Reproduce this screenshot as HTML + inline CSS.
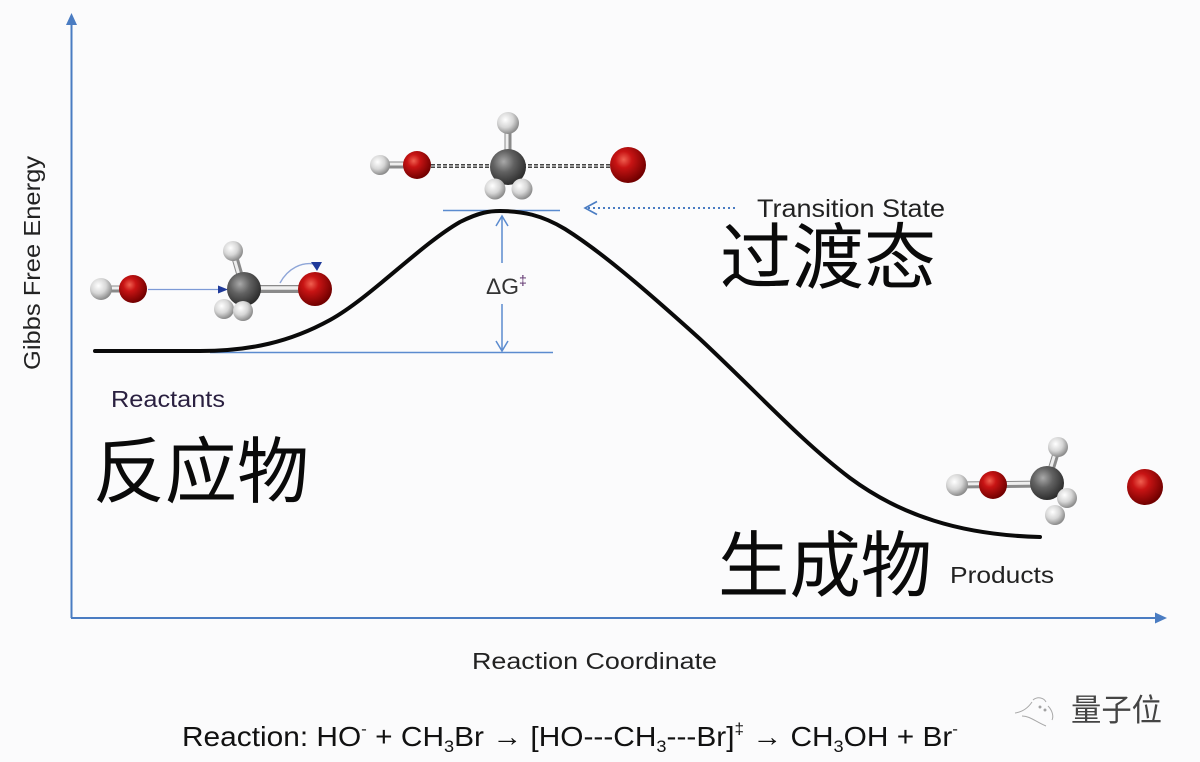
<!DOCTYPE html>
<html>
<head>
<meta charset="utf-8">
<style>
  html,body{margin:0;padding:0;background:#fbfbfc;}
  svg{display:block;}
  .en{font-family:"Liberation Sans","DejaVu Sans",sans-serif;}
  .cjk{font-family:"Liberation Sans","Noto Sans CJK SC",sans-serif;}
</style>
</head>
<body>
<svg width="1200" height="762" viewBox="0 0 1200 762" xmlns="http://www.w3.org/2000/svg">
  <defs>
    <radialGradient id="gRed" cx="38%" cy="35%" r="65%">
      <stop offset="0%" stop-color="#f06050"/>
      <stop offset="35%" stop-color="#c81414"/>
      <stop offset="100%" stop-color="#720000"/>
    </radialGradient>
    <radialGradient id="gWhite" cx="38%" cy="35%" r="65%">
      <stop offset="0%" stop-color="#ffffff"/>
      <stop offset="55%" stop-color="#d6d6d6"/>
      <stop offset="100%" stop-color="#8c8c8c"/>
    </radialGradient>
    <radialGradient id="gGray" cx="38%" cy="35%" r="65%">
      <stop offset="0%" stop-color="#a9a9a9"/>
      <stop offset="45%" stop-color="#626262"/>
      <stop offset="100%" stop-color="#2e2e2e"/>
    </radialGradient>
  </defs>

  <rect x="0" y="0" width="1200" height="762" fill="#fbfbfc"/>

  <!-- axes -->
  <line x1="71.5" y1="618" x2="71.5" y2="22" stroke="#4a7cc2" stroke-width="2"/>
  <polygon points="71.5,13 66,25 77,25" fill="#4a7cc2"/>
  <line x1="71" y1="618" x2="1158" y2="618" stroke="#4a7cc2" stroke-width="2"/>
  <polygon points="1167,618 1155,612.5 1155,623.5" fill="#4a7cc2"/>

  <!-- reference blue lines -->
  <line x1="210" y1="352.5" x2="553" y2="352.5" stroke="#5b8bcf" stroke-width="1.5"/>
  <line x1="443" y1="210.5" x2="560" y2="210.5" stroke="#5b8bcf" stroke-width="1.5"/>

  <!-- ΔG arrow -->
  <line x1="502" y1="216" x2="502" y2="263" stroke="#5b8bcf" stroke-width="1.5"/>
  <polyline points="496,226 502,216 508,226" fill="none" stroke="#5b8bcf" stroke-width="1.5"/>
  <line x1="502" y1="304" x2="502" y2="351" stroke="#5b8bcf" stroke-width="1.5"/>
  <polyline points="496,341 502,351 508,341" fill="none" stroke="#5b8bcf" stroke-width="1.5"/>
  <text x="486" y="294" class="en" font-size="22" fill="#333" textLength="33" lengthAdjust="spacingAndGlyphs">ΔG</text>
  <text x="519" y="285" class="en" font-size="14" fill="#5a2d6a">‡</text>

  <!-- dotted arrow to transition state -->
  <line x1="588" y1="208" x2="736" y2="208" stroke="#4a7cc2" stroke-width="2" stroke-dasharray="2,3"/>
  <polyline points="597,201.5 585,208 597,214.5" fill="none" stroke="#4a7cc2" stroke-width="1.6"/>

  <!-- energy curve -->
  <path d="M95,351 L200,351 C250,351 290,342 330,320 C370,298 420,245 460,222 C480,212 490,211 500,211 C522,211 542,215 565,229 C600,251 640,285 700,339 C760,395 800,440 850,478 C900,515 960,535 1040,537"
        fill="none" stroke="#0a0a0a" stroke-width="4" stroke-linecap="round"/>

  <!-- ===== Reactant molecules ===== -->
  <line x1="101" y1="289" x2="133" y2="289" stroke="#8a8a8a" stroke-width="7"/>
  <line x1="101" y1="288" x2="133" y2="288" stroke="#eeeeee" stroke-width="3"/>
  <circle cx="101" cy="289" r="11" fill="url(#gWhite)"/>
  <circle cx="133" cy="289" r="14" fill="url(#gRed)"/>
  <line x1="148" y1="289.5" x2="220" y2="289.5" stroke="#7d9ad6" stroke-width="1.3"/>
  <polygon points="228,289.5 218,285.5 218,293.5" fill="#1f3a9a"/>
  <line x1="244" y1="289" x2="233" y2="251" stroke="#8a8a8a" stroke-width="7"/>
  <line x1="243" y1="289" x2="232" y2="251" stroke="#eeeeee" stroke-width="3"/>
  <line x1="244" y1="289" x2="315" y2="289" stroke="#8a8a8a" stroke-width="8"/>
  <line x1="244" y1="288" x2="315" y2="288" stroke="#f0f0f0" stroke-width="3.5"/>
  <circle cx="233" cy="251" r="10" fill="url(#gWhite)"/>
  <circle cx="244" cy="289" r="17" fill="url(#gGray)"/>
  <circle cx="224" cy="309" r="10" fill="url(#gWhite)"/>
  <circle cx="243" cy="311" r="10" fill="url(#gWhite)"/>
  <circle cx="315" cy="289" r="17" fill="url(#gRed)"/>
  <path d="M280,283 C288,268 302,262 314,264" fill="none" stroke="#8fa6d8" stroke-width="1.4"/>
  <polygon points="317,271 311,262 322,262" fill="#1f3a9a"/>

  <!-- ===== Transition state molecule ===== -->
  <line x1="380" y1="165" x2="417" y2="165" stroke="#8a8a8a" stroke-width="7"/>
  <line x1="380" y1="164" x2="417" y2="164" stroke="#eeeeee" stroke-width="3"/>
  <line x1="425" y1="166" x2="495" y2="166" stroke="#444" stroke-width="4" stroke-dasharray="4,2"/>
  <line x1="425" y1="166" x2="495" y2="166" stroke="#ccc" stroke-width="1.2" stroke-dasharray="4,2"/>
  <line x1="522" y1="166" x2="615" y2="166" stroke="#444" stroke-width="4" stroke-dasharray="4,2"/>
  <line x1="522" y1="166" x2="615" y2="166" stroke="#ccc" stroke-width="1.2" stroke-dasharray="4,2"/>
  <line x1="508" y1="167" x2="508" y2="123" stroke="#8a8a8a" stroke-width="7"/>
  <line x1="507" y1="167" x2="507" y2="123" stroke="#eeeeee" stroke-width="3"/>
  <circle cx="380" cy="165" r="10" fill="url(#gWhite)"/>
  <circle cx="417" cy="165" r="14" fill="url(#gRed)"/>
  <circle cx="508" cy="123" r="11" fill="url(#gWhite)"/>
  <circle cx="508" cy="167" r="18" fill="url(#gGray)"/>
  <circle cx="495" cy="189" r="10.5" fill="url(#gWhite)"/>
  <circle cx="522" cy="189" r="10.5" fill="url(#gWhite)"/>
  <circle cx="628" cy="165" r="18" fill="url(#gRed)"/>

  <!-- ===== Product molecules ===== -->
  <line x1="957" y1="485" x2="1047" y2="484" stroke="#8a8a8a" stroke-width="7"/>
  <line x1="957" y1="484" x2="1047" y2="483" stroke="#eeeeee" stroke-width="3"/>
  <line x1="1047" y1="483" x2="1058" y2="447" stroke="#8a8a8a" stroke-width="7"/>
  <line x1="1046" y1="483" x2="1057" y2="447" stroke="#eeeeee" stroke-width="3"/>
  <circle cx="957" cy="485" r="11" fill="url(#gWhite)"/>
  <circle cx="993" cy="485" r="14" fill="url(#gRed)"/>
  <circle cx="1058" cy="447" r="10" fill="url(#gWhite)"/>
  <circle cx="1047" cy="483" r="17" fill="url(#gGray)"/>
  <circle cx="1055" cy="515" r="10" fill="url(#gWhite)"/>
  <circle cx="1067" cy="498" r="10" fill="url(#gWhite)"/>
  <circle cx="1145" cy="487" r="18" fill="url(#gRed)"/>

  <!-- ===== Labels ===== -->
  <text transform="translate(40,370) rotate(-90)" class="en" font-size="23" fill="#222" textLength="214" lengthAdjust="spacingAndGlyphs">Gibbs Free Energy</text>

  <text x="111" y="407" class="en" font-size="23" fill="#2a2040" textLength="114" lengthAdjust="spacingAndGlyphs">Reactants</text>
  <text x="93" y="497" class="cjk" font-size="72" fill="#0a0a0a" textLength="216" lengthAdjust="spacingAndGlyphs">反应物</text>

  <text x="757" y="217" class="en" font-size="25" fill="#222" textLength="188" lengthAdjust="spacingAndGlyphs">Transition State</text>
  <text x="720" y="283" class="cjk" font-size="72" fill="#0a0a0a" textLength="216" lengthAdjust="spacingAndGlyphs">过渡态</text>

  <text x="718" y="591" class="cjk" font-size="72" fill="#0a0a0a" textLength="214" lengthAdjust="spacingAndGlyphs">生成物</text>
  <text x="950" y="583" class="en" font-size="23" fill="#222" textLength="104" lengthAdjust="spacingAndGlyphs">Products</text>

  <text x="472" y="669" class="en" font-size="23" fill="#222" textLength="245" lengthAdjust="spacingAndGlyphs">Reaction Coordinate</text>

  <!-- reaction equation -->
  <text x="182" y="746" class="en" font-size="28" fill="#111" textLength="776" lengthAdjust="spacingAndGlyphs">Reaction:  HO<tspan font-size="16" dy="-12">-</tspan><tspan dy="12"> + CH</tspan><tspan font-size="17" dy="6">3</tspan><tspan dy="-6">Br → [HO---CH</tspan><tspan font-size="17" dy="6">3</tspan><tspan dy="-6">---Br]</tspan><tspan font-size="16" dy="-12">‡</tspan><tspan dy="12">  → CH</tspan><tspan font-size="17" dy="6">3</tspan><tspan dy="-6">OH + Br</tspan><tspan font-size="16" dy="-12">-</tspan></text>

  <!-- watermark -->
  <g stroke="#9a9a9a" stroke-width="1" fill="none" opacity="0.85">
    <path d="M1015,713 C1022,712 1028,708 1032,702"/>
    <path d="M1022,716 C1030,716 1036,722 1046,726"/>
    <path d="M1033,700 C1038,696 1044,698 1046,702"/>
    <path d="M1048,706 C1052,710 1054,716 1052,720"/>
    <circle cx="1040" cy="707" r="1" fill="#777"/>
    <circle cx="1045" cy="710" r="1" fill="#777"/>
  </g>
  <text x="1071" y="721" class="cjk" font-size="31" fill="#444" textLength="91" lengthAdjust="spacingAndGlyphs">量子位</text>
</svg>
</body>
</html>
